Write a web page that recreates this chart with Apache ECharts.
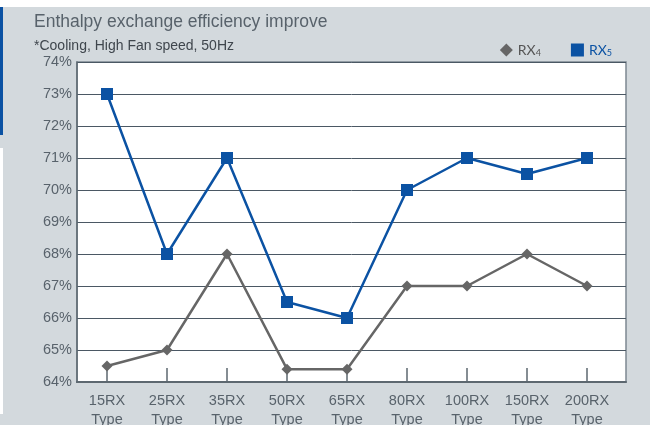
<!DOCTYPE html>
<html><head><meta charset="utf-8">
<script src="https://cdn.jsdelivr.net/npm/echarts@6/dist/echarts.min.js"></script>
<style>
html,body{margin:0;padding:0;background:#fff}
#wrap{position:relative;width:665px;height:425px}
#panel{position:absolute;left:0;top:7px;width:650px;height:418px;background:#d3d9dd}
#blue{position:absolute;left:0;top:7px;width:3px;height:128px;background:#0b52a3}
#white{position:absolute;left:0;top:148px;width:3px;height:266px;background:#fff}
#c{position:absolute;left:0;top:0;width:665px;height:425px}
</style>
</head><body><div id="wrap"><div id="panel"></div><div id="blue"></div><div id="white"></div><div id="c"></div></div>
<script>
var categories = ['15RX\nType','25RX\nType','35RX\nType','50RX\nType','65RX\nType','80RX\nType','100RX\nType','150RX\nType','200RX\nType'];
var rx4 = [64.5, 65, 68, 64.4, 64.4, 67, 67, 68, 67];
var rx5 = [73, 68, 71, 66.5, 66, 70, 71, 70.5, 71];
var yTicks = [64,65,66,67,68,69,70,71,72,73,74];

function pairs(arr){ return arr.map(function(v,i){ return [i, v]; }); }
var idx = categories.map(function(c,i){ return i; });
var yMin = yTicks[0], yMax = yTicks[yTicks.length - 1];

var chart = echarts.init(document.getElementById('c'), null, {renderer:'canvas'});
var font = 'Liberation Sans, Arial, sans-serif';
chart.setOption({
  animation:false,
  backgroundColor:'transparent',
  title:{
    text:'Enthalpy exchange efficiency improve',
    subtext:'*Cooling, High Fan speed, 50Hz',
    left:29, top:8, itemGap:8,
    textStyle:{fontFamily:font, fontSize:17.5, fontWeight:'normal', color:'#58626b'},
    subtextStyle:{fontFamily:font, fontSize:14, color:'#3f464d'}
  },
  legend:{
    right:48, top:38, itemGap:30, itemWidth:13, itemHeight:13,
    data:[
      {name:'RX4', icon:'diamond', itemStyle:{color:'#666666'}, textStyle:{color:'#555555'}},
      {name:'RX5', icon:'rect', itemStyle:{color:'#0b52a3'}, textStyle:{color:'#0b52a3'}}
    ],
    formatter:function(n){ return 'RX{s|' + n.slice(2) + '}'; },
    textStyle:{fontFamily:'Lato, sans-serif', fontSize:14,
      rich:{s:{fontSize:9, verticalAlign:'bottom', padding:[6,0,0,0], fontFamily:'Lato, sans-serif'}}}
  },
  grid:[
    {left:77, top:62, width:549, height:320, outerBoundsMode:'none',
      show:true, backgroundColor:'#ffffff', borderColor:'#7d8891', borderWidth:1.5},
    {left:77, top:62, width:540, height:320, outerBoundsMode:'none', show:false}
  ],
  xAxis:[{
    type:'value', min:-0.5, max:8.65, gridIndex:0,
    axisLine:{show:true, onZero:false, lineStyle:{color:'#5d6870', width:2}},
    splitLine:{show:false},
    axisTick:{show:false},
    axisLabel:{customValues:idx, formatter:function(v){ return categories[Math.round(v)]; },
      fontFamily:font, fontSize:14.5, color:'#58626b', lineHeight:19, margin:9}
  },{
    type:'category', data:categories, gridIndex:1,
    axisLine:{show:true, onZero:false, lineStyle:{color:'#5d6870', width:2}},
    axisLabel:{show:false},
    axisTick:{show:true, inside:true, alignWithLabel:true, length:14, lineStyle:{color:'#5d6870', width:1.5}}
  }],
  yAxis:[{
    type:'value', min:yMin, max:yMax, interval:1, gridIndex:0,
    axisLine:{show:true, onZero:false, lineStyle:{color:'#5d6870', width:1.5}},
    axisTick:{show:false},
    splitLine:{lineStyle:{color:'#4b5864', width:1}},
    axisLabel:{formatter:function(v){ return yTicks.indexOf(v) >= 0 ? v + '%' : ''; },
      fontFamily:font, fontSize:14.5, color:'#58626b', margin:5}
  },{
    type:'value', min:yMin, max:yMax, gridIndex:1, show:false
  }],
  series:[
    {name:'RX4', type:'line', data:pairs(rx4), symbol:'diamond', symbolSize:11,
      lineStyle:{color:'#666666', width:2.5}, itemStyle:{color:'#666666'}, z:3},
    {name:'RX5', type:'line', data:pairs(rx5), symbol:'rect', symbolSize:12,
      lineStyle:{color:'#0b52a3', width:2.5}, itemStyle:{color:'#0b52a3'}, z:4}
  ]
});
</script></body></html>
